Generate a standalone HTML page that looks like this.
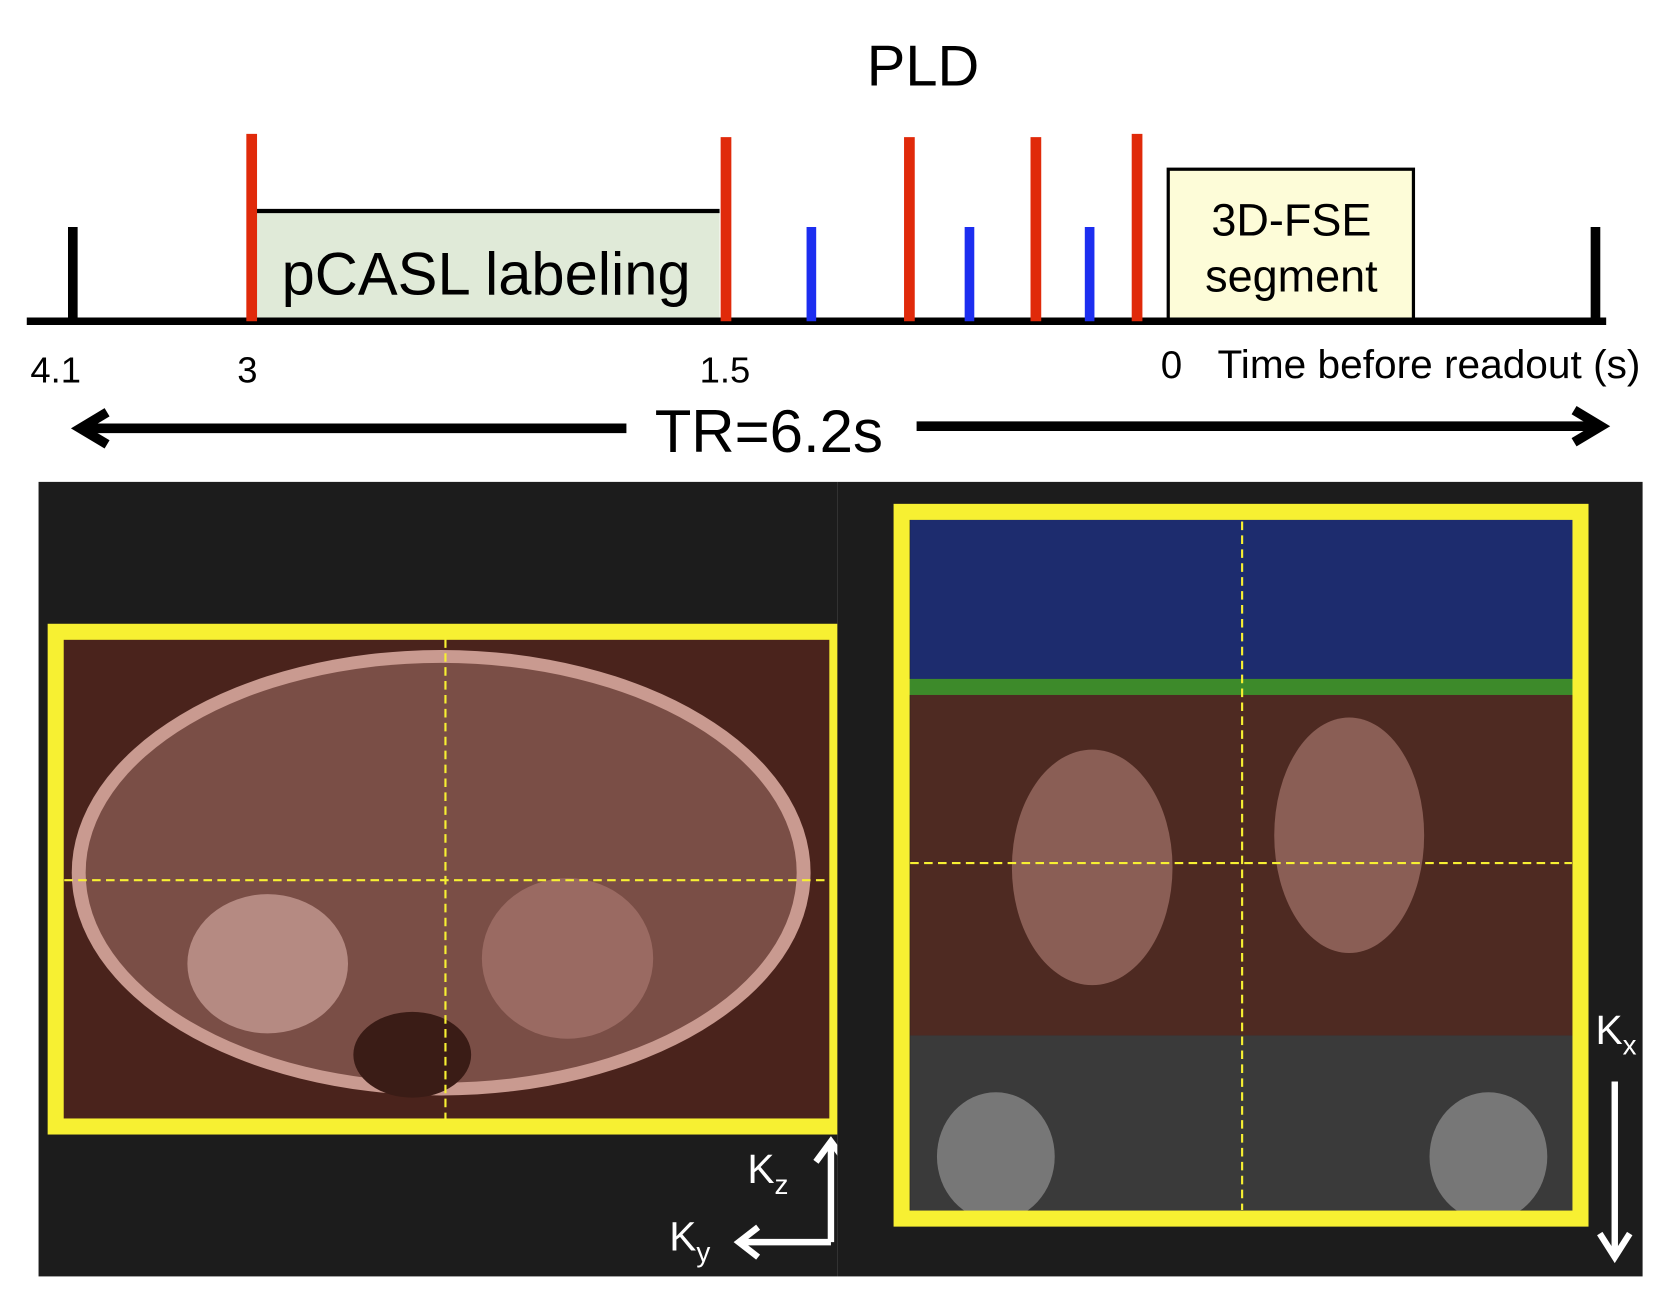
<!DOCTYPE html>
<html><head><meta charset="utf-8"><style>
html,body{margin:0;padding:0;background:#fff;}
svg{display:block;font-family:"Liberation Sans",sans-serif;}
</style></head><body>
<svg id="fig" width="1679" height="1300" viewBox="0 0 1568 1214">
<g id="timeline">
  <text x="862" y="80" font-size="54" text-anchor="middle">PLD</text>
  <rect x="240" y="197" width="432" height="103" fill="#e0ead8"/>
  <line x1="240" y1="197" x2="672" y2="197" stroke="#000" stroke-width="4"/>
  <text x="263" y="275" font-size="56" textLength="382" lengthAdjust="spacingAndGlyphs">pCASL labeling</text>
  <rect x="1091" y="158" width="229" height="140" fill="#fdfcd8" stroke="#000" stroke-width="3"/>
  <text x="1206" y="220" font-size="42" text-anchor="middle">3D-FSE</text>
  <text x="1206" y="272" font-size="42" text-anchor="middle">segment</text>
  <line x1="25" y1="300" x2="1500" y2="300" stroke="#000" stroke-width="7"/>
  <line x1="68" y1="212" x2="68" y2="300" stroke="#000" stroke-width="9"/>
  <line x1="1490" y1="212" x2="1490" y2="300" stroke="#000" stroke-width="9"/>
  <g id="pulses"></g>
  <text x="52" y="357" font-size="34" text-anchor="middle">4.1</text>
  <text x="231" y="357" font-size="34" text-anchor="middle">3</text>
  <text x="677" y="357" font-size="34" text-anchor="middle">1.5</text>
  <text x="1094" y="353" font-size="36" text-anchor="middle">0</text>
  <text x="1137" y="353" font-size="37" textLength="395" lengthAdjust="spacingAndGlyphs">Time before readout (s)</text>
  <text x="718" y="422" font-size="56" text-anchor="middle">TR=6.2s</text>
  <line x1="80" y1="400" x2="585" y2="400" stroke="#000" stroke-width="9"/>
  <polyline points="100,385 75,400 100,415" fill="none" stroke="#000" stroke-width="9"/>
  <line x1="856" y1="398" x2="1490" y2="398" stroke="#000" stroke-width="9"/>
  <polyline points="1470,383 1495,398 1470,413" fill="none" stroke="#000" stroke-width="9"/>
</g>
<g>
  <rect x="36" y="450" width="746" height="742" fill="#1c1c1c"/>
  <rect x="52" y="590" width="730" height="462" fill="#4a231c"/>
  <ellipse cx="412" cy="815" rx="345" ry="208" fill="#c99a90"/>
  <ellipse cx="412" cy="815" rx="332" ry="196" fill="#7a4e46"/>
  <ellipse cx="250" cy="900" rx="75" ry="65" fill="#b58a82"/>
  <ellipse cx="530" cy="895" rx="80" ry="75" fill="#9a6a62"/>
  <ellipse cx="385" cy="985" rx="55" ry="40" fill="#3a1c16"/>
  <rect x="52" y="590" width="730" height="462" fill="none" stroke="#f7f032" stroke-width="15"/>
  <line x1="416" y1="597" x2="416" y2="1045" stroke="#f7f032" stroke-width="2" stroke-dasharray="8,5"/>
  <line x1="60" y1="822" x2="775" y2="822" stroke="#f7f032" stroke-width="2" stroke-dasharray="8,5"/>
  <polyline points="776,1160 776,1068" fill="none" stroke="#fff" stroke-width="6"/>
  <polyline points="762,1085 776,1066 790,1085" fill="none" stroke="#fff" stroke-width="6"/>
  <line x1="776" y1="1160" x2="690" y2="1160" stroke="#fff" stroke-width="6"/>
  <polyline points="708,1146 690,1160 708,1174" fill="none" stroke="#fff" stroke-width="6"/>
  <text x="698" y="1105" font-size="38" fill="#fff">K<tspan font-size="26" dy="10">z</tspan></text>
  <text x="625" y="1168" font-size="38" fill="#fff">K<tspan font-size="26" dy="10">y</tspan></text>
</g>
<g>
  <rect x="782" y="450" width="752" height="742" fill="#1c1c1c"/>
  <rect x="850" y="485" width="620" height="155" fill="#1d2c6e"/>
  <rect x="850" y="645" width="620" height="322" fill="#4e2a22"/>
  <ellipse cx="1020" cy="810" rx="75" ry="110" fill="#8a5e55"/>
  <ellipse cx="1260" cy="780" rx="70" ry="110" fill="#8a5e55"/>
  <rect x="850" y="967" width="620" height="170" fill="#3a3a3a"/>
  <ellipse cx="930" cy="1080" rx="55" ry="60" fill="#777"/>
  <ellipse cx="1390" cy="1080" rx="55" ry="60" fill="#777"/>
  <rect x="846" y="634" width="624" height="15" fill="#3d8a2a"/>
  <rect x="842" y="478" width="634" height="660" fill="none" stroke="#f7f032" stroke-width="15"/>
  <line x1="1160" y1="487" x2="1160" y2="1130" stroke="#f7f032" stroke-width="2" stroke-dasharray="8,5"/>
  <line x1="850" y1="806" x2="1468" y2="806" stroke="#f7f032" stroke-width="2" stroke-dasharray="8,5"/>
  <line x1="1508" y1="1010" x2="1508" y2="1172" stroke="#fff" stroke-width="6"/>
  <polyline points="1494,1152 1508,1174 1522,1152" fill="none" stroke="#fff" stroke-width="6"/>
  <text x="1490" y="975" font-size="38" fill="#fff">K<tspan font-size="26" dy="10">x</tspan></text>
</g>
</svg>
<script>
const redPulseTimes = [3.0, 1.5, 0.92, 0.52, 0.2];
const redPulseTops = [125, 128, 128, 128, 125];
const bluePulseTimes = [1.23, 0.73, 0.35];
function xOf(t){ return 678 + (1.5 - t) * 295.3; }
const g = document.getElementById('pulses');
const NS = 'http://www.w3.org/2000/svg';
redPulseTimes.forEach((t,i)=>{
  const l = document.createElementNS(NS,'line');
  l.setAttribute('x1', xOf(t)); l.setAttribute('x2', xOf(t));
  l.setAttribute('y1', redPulseTops[i]); l.setAttribute('y2', 300);
  l.setAttribute('stroke', '#e02a0a'); l.setAttribute('stroke-width', 10);
  
  
  g.appendChild(l);
});
bluePulseTimes.forEach((t)=>{
  const l = document.createElementNS(NS,'line');
  l.setAttribute('x1', xOf(t)); l.setAttribute('x2', xOf(t));
  l.setAttribute('y1', 212); l.setAttribute('y2', 300);
  l.setAttribute('stroke', '#1c2ef0'); l.setAttribute('stroke-width', 9);
  
  
  g.appendChild(l);
});
</script>
</body></html>
